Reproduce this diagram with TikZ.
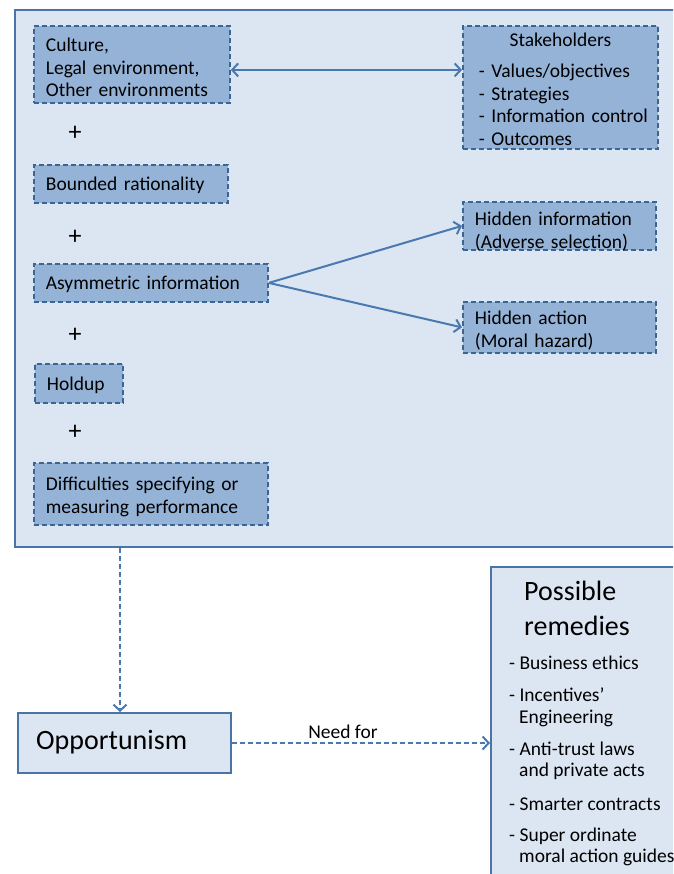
\documentclass[tikz,border=0pt]{standalone}
\usepackage{fontspec}
\setmainfont{Carlito}
\usetikzlibrary{arrows.meta}

\definecolor{panelfill}{HTML}{DCE6F2}
\definecolor{panelline}{HTML}{4A74A8}
\definecolor{factorfill}{HTML}{95B3D7}
\definecolor{factorline}{HTML}{3B6595}
\definecolor{linkcol}{HTML}{4A78B0}

\tikzset{
  txt/.style={font=\fontsize{19.5}{22.5}\selectfont},
  panel/.style={draw=panelline, fill=panelfill, line width=2pt, anchor=north west, inner sep=0pt},
  textdrop/.style={execute at end node={\par\vspace*{-#1}}},
  factor/.style={draw=factorline, fill=factorfill, line width=1.8pt,
    dash pattern=on 5pt off 3pt, anchor=north west, align=left, txt,
    inner xsep=12pt, inner ysep=0pt, textdrop=6pt,
    execute at begin node={\hyphenpenalty=10000}},
  plus/.style={font=\fontsize{26}{26}\selectfont},
  link/.style={draw=linkcol, line width=2pt, -{Straight Barb[length=6pt,width=13pt,line width=2pt]}},
  duallink/.style={link, {Straight Barb[length=6pt,width=13pt,line width=2pt]}-{Straight Barb[length=6pt,width=13pt,line width=2pt]}},
  dashlink/.style={link, dash pattern=on 5pt off 3pt},
  remitem/.style={txt, anchor=base west, inner sep=0pt}
}

\begin{document}
\begin{tikzpicture}[x=1pt,y=-1pt]
\useasboundingbox (0,0) rectangle (673,874);
\clip (0,0) rectangle (673,874);

% outer panel with the contributing factors
\node[panel, minimum width=700pt, minimum height=537pt] (panel) at (14,9) {};

% factor boxes
\node[factor, minimum width=196pt, minimum height=77pt, text width=172pt] (cult) at (33,25)
  {Culture,\\Legal environment,\\Other environments};
\node[factor, minimum width=195pt, minimum height=123pt, text width=175pt, inner xsep=10pt, textdrop=-3pt] (stake) at (462,25)
  {\makebox[\linewidth][c]{Stakeholders}\\[9pt]\hspace*{6pt}- Values/objectives\\\hspace*{6pt}- Strategies\\\hspace*{6pt}- Information control\\\hspace*{6pt}- Outcomes};
\node[factor, minimum width=194pt, minimum height=38pt, text width=170pt, textdrop=3pt] (bound) at (33,164)
  {Bounded rationality};
\node[factor, minimum width=234pt, minimum height=38pt, text width=210pt, textdrop=4pt] (asym) at (33,263)
  {Asymmetric information};
\node[factor, minimum width=193pt, minimum height=48pt, text width=169pt, textdrop=5pt] (hinfo) at (462,201)
  {Hidden information\\(Adverse selection)};
\node[factor, minimum width=193pt, minimum height=51pt, text width=169pt, textdrop=0pt] (hact) at (462,301)
  {Hidden action\\(Moral hazard)};
\node[factor, minimum width=88pt, minimum height=39pt, text width=64pt] (hold) at (34,363)
  {Holdup};
\node[factor, minimum width=234pt, minimum height=62pt, text width=210pt] (diff) at (33,462)
  {Difficulties specifying or\\measuring performance};

% plus signs between factors
\node[plus] (p1) at (75,133) {+};
\node[plus] (p2) at (75,237) {+};
\node[plus] (p3) at (75,335) {+};
\node[plus] (p4) at (75,432) {+};

% opportunism and remedies
\node[draw=panelline, fill=panelfill, line width=2pt, anchor=north west,
      minimum width=213pt, minimum height=60pt, inner sep=0pt] (opp) at (17,712) {};
\node[anchor=west, font=\fontsize{28}{34}\selectfont, inner sep=0pt] (opptext) at (36,742) {Opportunism};

\node[draw=panelline, fill=panelfill, line width=2pt, anchor=north west,
      minimum width=250pt, minimum height=350pt, inner sep=0pt] (rem) at (490,566) {};
\node[anchor=base west, font=\fontsize{28}{34}\selectfont, inner sep=0pt] (remt1) at (524,600) {Possible};
\node[anchor=base west, font=\fontsize{28}{34}\selectfont, inner sep=0pt] (remt2) at (524,635) {remedies};
\node[remitem] (r1) at (509,669) {- Business ethics};
\node[remitem] (r2) at (509,701) {- Incentives’};
\node[remitem] (r2b) at (519,723) {Engineering};
\node[remitem] (r3) at (509,755) {- Anti-trust laws};
\node[remitem] (r3b) at (519,776) {and private acts};
\node[remitem] (r4) at (509,810) {- Smarter contracts};
\node[remitem] (r5) at (509,841) {- Super ordinate};
\node[remitem] (r5b) at (519,862) {moral action guides};

% connectors
\draw[duallink] ([yshift=-5.5pt]cult.east) -- ([yshift=-5.5pt]cult.east -| stake.west);
\draw[link] (asym.east) -- (hinfo.west);
\draw[link] (asym.east) -- (hact.west);
\draw[dashlink] ([xshift=-4.5pt]opp.north |- panel.south) -- ([xshift=-4.5pt]opp.north);
\draw[dashlink] (opp.east) -- node[pos=0.43, above, txt, inner sep=3pt] (needfor) {Need for} (opp.east -| rem.west);
\end{tikzpicture}
\end{document}
